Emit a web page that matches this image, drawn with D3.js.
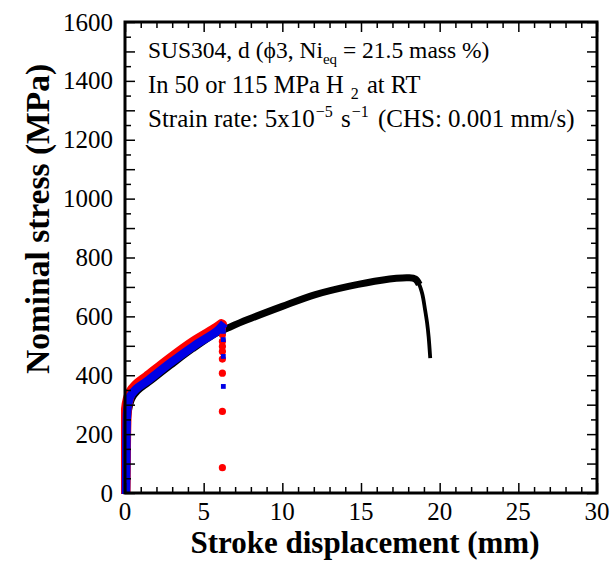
<!DOCTYPE html>
<html>
<head>
<meta charset="utf-8">
<script src="https://cdn.jsdelivr.net/npm/d3@7"></script>
<style>
  html, body { margin: 0; padding: 0; background: #fff; }
  svg { display: block; }
  text { font-family: "Liberation Serif", "Times New Roman", serif; fill: #000; }
</style>
</head>
<body>
<svg id="chart" width="614" height="566"></svg>
<script>
// Stroke displacement (mm) vs nominal stress (MPa)
// Black: tensile curve, uniform deformation part
const blackStroke = [0.1, 0.12, 0.15, 0.25, 0.45, 0.8, 1.5, 2.9, 4.3, 5.8, 6.6, 7.8, 10.0, 12.1, 14.2, 16.3, 18.0, 18.45, 18.7];
const blackStress = [0, 150, 250, 288, 322, 347, 376, 434, 490, 543, 562, 589, 634, 674, 702, 723, 731, 727, 708];
// Black: final load drop to fracture
const blackTailStroke = [18.45, 18.7, 18.9, 19.07, 19.2, 19.3, 19.4];
const blackTailStress = [727, 708, 675, 623, 578, 530, 458];

// Red series (circles): dense record then post-drop points
const redStroke = [0.0, 0.02, 0.05, 0.1, 0.2, 0.35, 0.7, 1.38, 2.86, 4.34, 5.83, 6.14];
const redStress = [0, 100, 220, 287, 318, 341, 365, 393, 455, 512, 560, 572];
const redDropStroke = [6.19, 6.19, 6.19, 6.19, 6.19, 6.19, 6.19, 6.19, 6.19];
const redDropStress = [555, 538, 515, 498, 481, 455, 407, 277, 86];

// Blue series (squares): dense record then post-drop points
const blueStroke = [0.06, 0.08, 0.1, 0.14, 0.22, 0.35, 0.7, 1.38, 2.86, 4.34, 5.83, 6.14];
const blueStress = [0, 100, 220, 280, 308, 330, 353, 379, 441, 498, 549, 566];
const blueDropStroke = [6.25, 6.25, 6.25, 6.25];
const blueDropStress = [549, 521, 464, 362];

const xTickLabels = [0, 5, 10, 15, 20, 25, 30];
const yTickLabels = [0, 200, 400, 600, 800, 1000, 1200, 1400, 1600];

const svg = d3.select("#chart");
const L = 125, R = 597, T = 22, B = 493;

const x = d3.scaleLinear().domain([0, 30]).range([L, R]);
const y = d3.scaleLinear().domain([0, 1600]).range([B, T]);

svg.append("defs").append("clipPath").attr("id", "plotclip")
  .append("rect").attr("x", L - 4).attr("y", T).attr("width", R - L + 4).attr("height", B - T + 1);

const plot = svg.append("g").attr("clip-path", "url(#plotclip)");

const line = d3.line().x(d => x(d[0])).y(d => y(d[1])).curve(d3.curveCatmullRom.alpha(0.5));

// black curve
plot.append("path")
  .datum(d3.zip(blackStroke, blackStress))
  .attr("d", line)
  .attr("fill", "none").attr("stroke", "#000").attr("stroke-width", 7)
  .attr("stroke-linejoin", "round").attr("stroke-linecap", "butt");
plot.append("path")
  .datum(d3.zip(blackTailStroke, blackTailStress))
  .attr("d", line)
  .attr("fill", "none").attr("stroke", "#000").attr("stroke-width", 3.8)
  .attr("stroke-linejoin", "round").attr("stroke-linecap", "butt");

// red dense record
plot.append("path")
  .datum(d3.zip(redStroke, redStress))
  .attr("d", line)
  .attr("fill", "none").attr("stroke", "#ff0000").attr("stroke-width", 11)
  .attr("stroke-linejoin", "round").attr("stroke-linecap", "round");

plot.selectAll("circle.red")
  .data(d3.zip(redDropStroke, redDropStress))
  .join("circle").attr("class", "red")
  .attr("cx", d => x(d[0])).attr("cy", d => y(d[1])).attr("r", 3.6)
  .attr("fill", "#ff0000");

// blue dense record
plot.append("path")
  .datum(d3.zip(blueStroke, blueStress))
  .attr("d", line)
  .attr("fill", "none").attr("stroke", "#0000e6").attr("stroke-width", 8.5)
  .attr("stroke-linejoin", "miter").attr("stroke-linecap", "square");

plot.selectAll("rect.blue")
  .data(d3.zip(blueDropStroke, blueDropStress))
  .join("rect").attr("class", "blue")
  .attr("x", d => x(d[0]) - 2.4).attr("y", d => y(d[1]) - 2.4)
  .attr("width", 4.8).attr("height", 4.8)
  .attr("fill", "#0000e6");

// axes: inward ticks on all four sides
function styleAxis(g) {
  g.select(".domain").remove();
  g.selectAll(".tick line").attr("stroke", "#000").attr("stroke-width", 1.5);
}
const xMajor = d3.range(0, 31, 5);
const xMinor = d3.range(0, 31, 1).filter(v => v % 5 !== 0);
const yMajor = d3.range(0, 1601, 100);
const yMinor = d3.range(50, 1600, 100);

svg.append("g").attr("transform", `translate(0,${B})`)
  .call(d3.axisBottom(x).tickValues(xMajor).tickSize(-10).tickFormat(""))
  .call(styleAxis);
svg.append("g").attr("transform", `translate(0,${B})`)
  .call(d3.axisBottom(x).tickValues(xMinor).tickSize(-6).tickFormat(""))
  .call(styleAxis);
svg.append("g").attr("transform", `translate(0,${T})`)
  .call(d3.axisTop(x).tickValues(xMajor).tickSize(-10).tickFormat(""))
  .call(styleAxis);
svg.append("g").attr("transform", `translate(0,${T})`)
  .call(d3.axisTop(x).tickValues(xMinor).tickSize(-6).tickFormat(""))
  .call(styleAxis);
svg.append("g").attr("transform", `translate(${L},0)`)
  .call(d3.axisLeft(y).tickValues(yMajor).tickSize(-10).tickFormat(""))
  .call(styleAxis);
svg.append("g").attr("transform", `translate(${L},0)`)
  .call(d3.axisLeft(y).tickValues(yMinor).tickSize(-6).tickFormat(""))
  .call(styleAxis);
svg.append("g").attr("transform", `translate(${R},0)`)
  .call(d3.axisRight(y).tickValues(yMajor).tickSize(-10).tickFormat(""))
  .call(styleAxis);
svg.append("g").attr("transform", `translate(${R},0)`)
  .call(d3.axisRight(y).tickValues(yMinor).tickSize(-6).tickFormat(""))
  .call(styleAxis);

// frame
svg.append("rect")
  .attr("x", L).attr("y", T).attr("width", R - L).attr("height", B - T)
  .attr("fill", "none").attr("stroke", "#000").attr("stroke-width", 3);

// tick labels
svg.append("g").selectAll("text")
  .data(xTickLabels).join("text")
  .attr("x", d => x(d)).attr("y", 520)
  .attr("text-anchor", "middle").attr("font-size", 25)
  .text(d => d);
svg.append("g").selectAll("text")
  .data(yTickLabels).join("text")
  .attr("x", 113).attr("y", d => y(d)).attr("dy", "0.34em")
  .attr("text-anchor", "end").attr("font-size", 25)
  .text(d => d);

// axis titles
svg.append("text")
  .attr("x", (L + R) / 2 + 4).attr("y", 553)
  .attr("text-anchor", "middle").attr("font-size", 31).attr("font-weight", "bold")
  .text("Stroke displacement (mm)");
svg.append("text")
  .attr("transform", "translate(49,219) rotate(-90)")
  .attr("text-anchor", "middle").attr("font-size", 33.5).attr("font-weight", "bold")
  .text("Nominal stress (MPa)");

// condition notes
const note = svg.append("g").attr("font-size", 23.5);
const t1 = note.append("text").attr("x", 148).attr("y", 58);
t1.append("tspan").text("SUS304, d (\u03D53, Ni");
t1.append("tspan").attr("font-size", 15).attr("dy", 6).text("eq");
t1.append("tspan").attr("dy", -6).text(" = 21.5 mass %)");

const t2 = note.append("text").attr("x", 148).attr("y", 93).attr("font-size", 24.5);
t2.append("tspan").text("In 50 or 115 MPa H");
t2.append("tspan").attr("font-size", 16).attr("dy", 6).attr("dx", 3).text(" 2");
t2.append("tspan").attr("dy", -6).attr("dx", 2).text(" at RT");

const t3 = note.append("text").attr("x", 148).attr("y", 127).attr("font-size", 25);
t3.append("tspan").text("Strain rate: 5x10");
t3.append("tspan").attr("font-size", 16).attr("dy", -10).attr("dx", 1).text("\u22125");
t3.append("tspan").attr("dy", 10).attr("dx", 2).text(" s");
t3.append("tspan").attr("font-size", 16).attr("dy", -10).attr("dx", 1).text("\u22121");
t3.append("tspan").attr("dy", 10).attr("dx", 3).text(" (CHS: 0.001 mm/s)");
</script>
</body>
</html>
